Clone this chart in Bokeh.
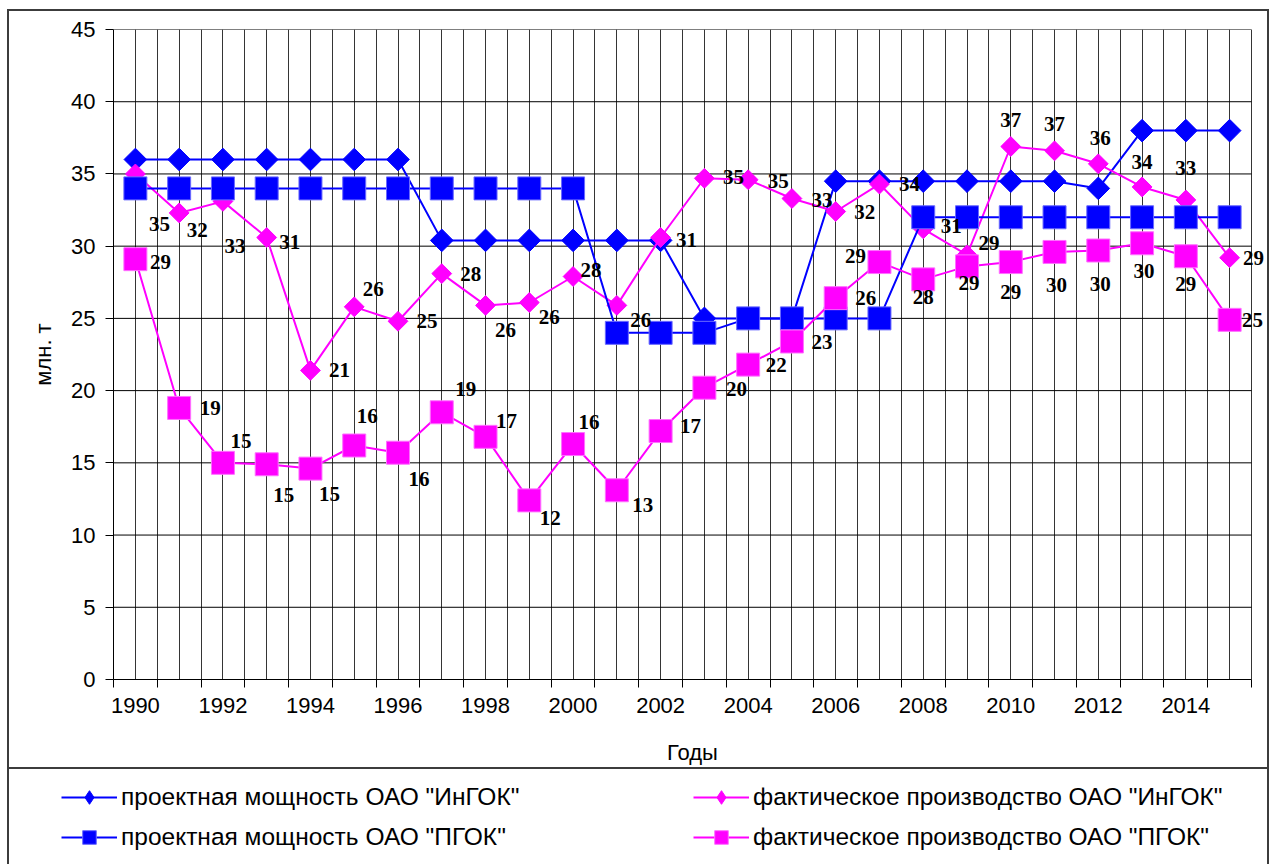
import math
from bokeh.plotting import figure
from bokeh.layouts import column
from bokeh.models import FixedTicker, Legend, LegendItem, ColumnDataSource
from bokeh.core.properties import value
from bokeh.embed import file_html
from bokeh.resources import INLINE

# ---------------- data ----------------
years = [1990, 1991, 1992, 1993, 1994, 1995, 1996, 1997, 1998, 1999, 2000, 2001, 2002,
         2003, 2004, 2005, 2006, 2007, 2008, 2009, 2010, 2011, 2012, 2013, 2014, 2015]
tick_years = [1990, 1992, 1994, 1996, 1998, 2000, 2002, 2004, 2006, 2008, 2010, 2012, 2014]
tick_labels = ["1990", "1992", "1994", "1996", "1998", "2000", "2002", "2004", "2006",
               "2008", "2010", "2012", "2014"]
y_ticks = [0, 5, 10, 15, 20, 25, 30, 35, 40, 45]

# проектная мощность ОАО "ИнГОК"
ingok_design = [36, 36, 36, 36, 36, 36, 36, 30.4, 30.4, 30.4, 30.4, 30.4, 30.4,
                25, 25, 25, 34.5, 34.5, 34.5, 34.5, 34.5, 34.5, 34, 38, 38, 38]
# фактическое производство ОАО "ИнГОК"
ingok_actual = [35.0, 32.3, 33.1, 30.6, 21.4, 25.8, 24.8, 28.1, 25.9, 26.1, 27.9, 25.9, 30.6,
                34.7, 34.6, 33.3, 32.4, 34.3, 31.2, 29.4, 36.9, 36.6, 35.7, 34.1, 33.2, 29.2]
# проектная мощность ОАО "ПГОК"
pgok_design = [34, 34, 34, 34, 34, 34, 34, 34, 34, 34, 34, 24, 24,
               24, 25, 25, 25, 25, 32, 32, 32, 32, 32, 32, 32, 32]
# фактическое производство ОАО "ПГОК"
pgok_actual = [29.1, 18.8, 15.0, 14.9, 14.6, 16.2, 15.7, 18.5, 16.8, 12.4, 16.3, 13.1, 17.2,
               20.2, 21.8, 23.4, 26.4, 28.9, 27.7, 28.6, 28.9, 29.6, 29.7, 30.2, 29.3, 24.9]

series_names = ['проектная мощность ОАО "ИнГОК"', 'фактическое производство ОАО "ИнГОК"',
                'проектная мощность ОАО "ПГОК"', 'фактическое производство ОАО "ПГОК"']

# data-label placement offsets (px, right / down)
ingok_lbl_dx = [24, 18, 12, 23, 29, 19, 29, 29, 20, 20, 18, 24, 26, 29, 30, 30, 29, 30, 28, 22, 0, 0, 2, 0, 0, 24]
ingok_lbl_dy = [50, 17, 45, 4, 0, -18, 0, 0, 25, 14, -7, 15, 2, -1, 1, 1, 0, 0, -3, -12, -27, -27, -26, -25, -32, 0]
pgok_lbl_dx = [25, 31, 18, 17, 19, 13, 21, 24, 21, 21, 16, 26, 30, 32, 28, 30, 30, -24, 0, 2, 0, 2, 2, 2, 0, 23]
pgok_lbl_dy = [3, 0, -22, 31, 25, -30, 26, -23, -16, 18, -22, 15, -5, 1, 0, 0, 0, -6, 18, 17, 30, 33, 33, 28, 28, 0]

BLUE = "#0000ff"
MAG = "#ff00ff"
BLUE_EDGE = "#6a6aff"
MAG_EDGE = "#ff70ff"
BORDER = "#3c3c3c"

W = 1271
H_MAIN = 768
H_LEG = 96

# plot area: 113..1251 px for the 26 categories; frame runs on to the canvas edge
FL, FR_AREA, FT, FB = 113, 1251, 29, 679
px_per_year = (FR_AREA - FL) / len(years)
x_lo = years[0] - 0.5
x_hi = years[-1] + 0.5
x_end = x_hi + (W - FR_AREA) / px_per_year

p = figure(width=W, height=H_MAIN, output_backend="svg", toolbar_location=None,
           x_range=(x_lo, x_end), y_range=(y_ticks[0], y_ticks[-1]),
           min_border_left=FL, min_border_right=0, min_border_top=FT,
           min_border_bottom=H_MAIN - FB)
p.frame_align = False
p.outline_line_color = None
p.background_fill_color = None
p.border_fill_color = None

# vertical grid: every half category
half_steps = [x_lo + 0.5 * k for k in range(2 * len(years) + 1)]
p.xgrid.ticker = FixedTicker(ticks=half_steps)
p.xgrid.grid_line_color = "#353535"
p.xgrid.grid_line_width = 1
# horizontal grid limited to the category span
p.ygrid.grid_line_color = None
p.segment(x0=[x_lo] * len(y_ticks), x1=[x_hi] * len(y_ticks), y0=y_ticks, y1=y_ticks,
          line_color="black", line_width=1)

# x axis
bounds = [y - 0.5 for y in years] + [x_hi]
p.xaxis.ticker = FixedTicker(ticks=tick_years, minor_ticks=bounds)
p.xaxis.major_label_overrides = {t: l for t, l in zip(tick_years, tick_labels)}
p.xaxis.bounds = (x_lo, x_hi)
p.xaxis.major_tick_out = 0
p.xaxis.major_tick_in = 0
p.xaxis.minor_tick_out = 8
p.xaxis.minor_tick_in = 0
p.xaxis.minor_tick_line_color = "black"
p.xaxis.major_label_standoff = 10
p.xaxis.axis_label = "Годы"
p.xaxis.axis_label_standoff = 24

# y axis
p.yaxis.ticker = FixedTicker(ticks=y_ticks)
p.yaxis.major_tick_out = 8
p.yaxis.major_tick_in = 0
p.yaxis.minor_tick_out = 0
p.yaxis.minor_tick_in = 0
p.yaxis.major_label_standoff = 10
p.yaxis.axis_label = "млн. т"
p.yaxis.axis_label_standoff = 12

for ax in (p.xaxis[0], p.yaxis[0]):
    ax.axis_line_color = "black"
    ax.axis_line_width = 1
    ax.major_tick_line_color = "black"
    ax.major_label_text_font = "Liberation Sans"
    ax.major_label_text_font_size = "22px"
    ax.major_label_text_color = "black"
    ax.axis_label_text_font = "Liberation Sans"
    ax.axis_label_text_font_size = "22px"
    ax.axis_label_text_font_style = "normal"
    ax.axis_label_text_color = "black"

# series
p.line(years, ingok_design, line_color=BLUE, line_width=2)
p.scatter(years, ingok_design, marker="square", angle=math.pi / 4, size=16,
          fill_color=BLUE, line_color=BLUE, line_width=1)

p.line(years, ingok_actual, line_color=MAG, line_width=2)
p.scatter(years, ingok_actual, marker="square", angle=math.pi / 4, size=14,
          fill_color=MAG, line_color=MAG, line_width=1)

p.line(years, pgok_design, line_color=BLUE, line_width=2)
p.scatter(years, pgok_design, marker="square", size=23,
          fill_color=BLUE, line_color=BLUE_EDGE, line_width=1)

p.line(years, pgok_actual, line_color=MAG, line_width=2)
p.scatter(years, pgok_actual, marker="square", size=23,
          fill_color=MAG, line_color=MAG_EDGE, line_width=1)

# data labels
def labels(vals, dx, dy):
    src = ColumnDataSource(dict(x=years, y=vals, t=[str(int(v + 0.5)) for v in vals], dx=dx, dy=dy))
    p.text(x="x", y="y", text="t", x_offset="dx", y_offset="dy", source=src,
           text_font=value("Liberation Serif"), text_font_style="bold",
           text_font_size="21px", text_color="black",
           text_align="center", text_baseline="middle")

labels(ingok_actual, ingok_lbl_dx, ingok_lbl_dy)
labels(pgok_actual, pgok_lbl_dx, pgok_lbl_dy)

# ---------------- legend panel ----------------
pl = figure(width=W, height=H_LEG, output_backend="svg", toolbar_location=None,
            x_range=(0, 1), y_range=(0, 1), x_axis_location=None, y_axis_location=None,
            min_border=0, min_border_left=0, min_border_right=0,
            min_border_top=0, min_border_bottom=0)
pl.frame_align = False
pl.grid.grid_line_color = None
pl.outline_line_color = None
pl.background_fill_color = None
pl.border_fill_color = None

# legend glyph renderers (series data lies outside this panel's ranges, so only the legend shows them)
def leg(xs, ys, color, marker, edge):
    l = pl.line(xs, ys, line_color=color, line_width=2)
    s = pl.scatter(xs, ys, marker=marker, fill_color=color, line_color=edge, line_width=1)
    return [l, s]

items = [
    LegendItem(label=series_names[0], renderers=leg(years, ingok_design, BLUE, "diamond", BLUE)),
    LegendItem(label=series_names[1], renderers=leg(years, ingok_actual, MAG, "diamond", MAG)),
    LegendItem(label=series_names[2], renderers=leg(years, pgok_design, BLUE, "square", BLUE_EDGE)),
    LegendItem(label=series_names[3], renderers=leg(years, pgok_actual, MAG, "square", MAG_EDGE)),
]
legend = Legend(items=items, location=(61, 10), orientation="horizontal", ncols=2,
                glyph_width=56, glyph_height=34, label_height=34, label_width=566,
                label_standoff=4, spacing=6, padding=0, margin=0,
                border_line_color=None, background_fill_alpha=0,
                label_text_font="Liberation Sans", label_text_font_size="24.5px",
                label_text_color="black")
pl.add_layout(legend)

g = "linear-gradient(%s, %s)" % (BORDER, BORDER)
layout = column(p, pl, spacing=0, styles={
    "background-color": "white",
    "background-image": ", ".join([g] * 4),
    "background-position": "7px 9px, 7px 9px, 1267px 9px, 7px 767px",
    "background-size": "2px 900px, 1262px 2px, 2px 900px, 1262px 2px",
    "background-repeat": "no-repeat",
})

open("out.html", "w").write(file_html(layout, INLINE))
